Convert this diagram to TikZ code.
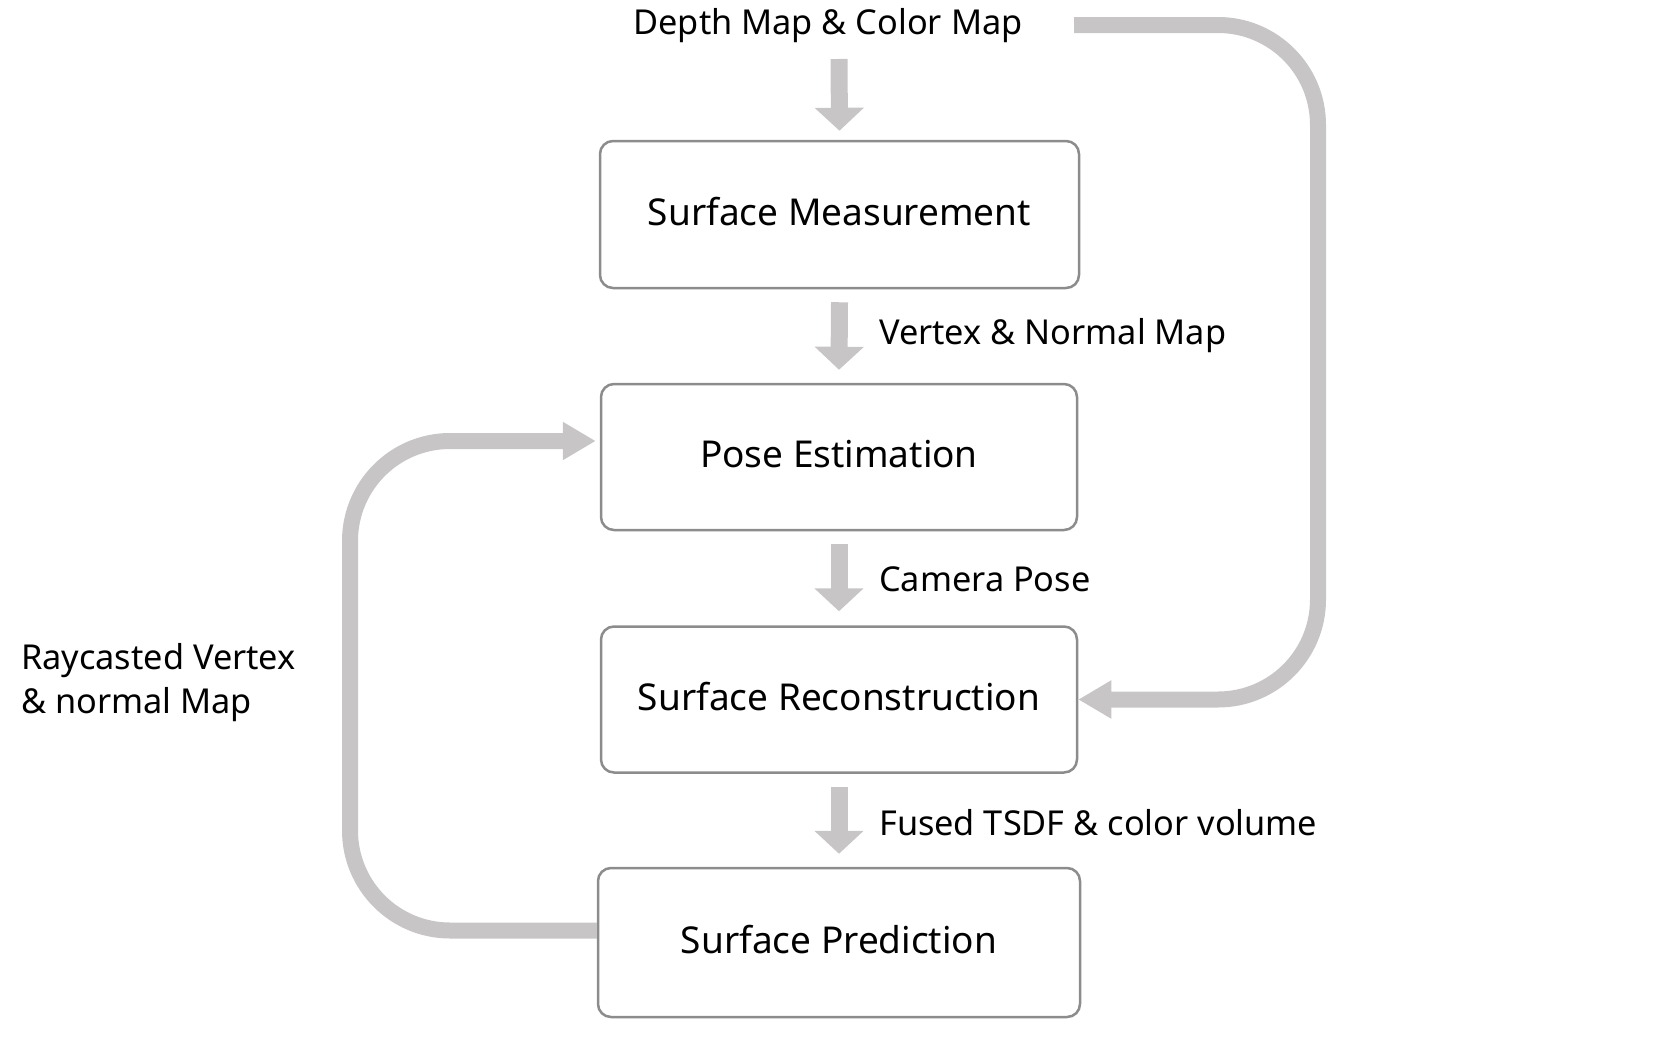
\documentclass[tikz,border=0pt]{standalone}
\usepackage{fontspec}
\setmainfont{Noto Sans}
\usetikzlibrary{arrows.meta}
\definecolor{flow}{RGB}{199,197,197}
\definecolor{edgec}{RGB}{140,140,140}
\begin{document}
\begin{tikzpicture}[x=1pt,y=-1pt,
  box/.style={draw=edgec,line width=2.5pt,rounded corners=13pt,minimum width=476pt,minimum height=146pt,inner sep=0pt,text depth=6pt,font=\fontsize{37}{44}\selectfont},
  lbl/.style={font=\fontsize{34.3}{44}\selectfont,inner sep=0pt},
  down/.style={draw=flow,line width=17pt,-{Triangle[width=48pt,length=23pt]}},
  loopline/.style={draw=flow,line width=16pt,rounded corners=100pt,-{Triangle[width=36pt,length=33pt]}}]
\path[use as bounding box] (0,0) rectangle (1662,1052);

\node[lbl] (in) at (828,26) {Depth Map \& Color Map};
\node[box, minimum width=479pt, minimum height=147pt] (sm) at (839.5,214.5) {Surface Measurement};
\node[box] (pe) at (839,457) {Pose Estimation};
\node[box] (sr) at (839,699.5) {Surface Reconstruction};
\node[box, minimum width=482pt, minimum height=149pt] (sp) at (839,942.5) {Surface Prediction};

\node[lbl, anchor=west] (l1) at (879,336) {Vertex \& Normal Map};
\node[lbl, anchor=west] (l2) at (879,579) {Camera Pose};
\node[lbl, anchor=west] (l3) at (879,823) {Fused TSDF \& color volume};
\node[lbl, anchor=west, align=left] (l4) at (21,683) {Raycasted Vertex\\\& normal Map};

\coordinate (a0) at (839,59);
\draw[down] (a0) -- ([yshift=9pt]sm.north);
\draw[down] ([yshift=-13pt]sm.south) -- ([yshift=13pt]pe.north);
\draw[down] ([yshift=-13pt]pe.south) -- ([yshift=14pt]sr.north);
\draw[down] ([yshift=-13pt]sr.south) -- ([yshift=13pt]sp.north);

\coordinate (rs) at (1074,25);
\coordinate (rc) at (1318,699.5);
\draw[loopline] (rs) -| (rc) -- (sr.east);

\coordinate (lc) at (350,441);
\draw[loopline] ([yshift=12pt]sp.west) -| (lc) -- ([xshift=-4pt,yshift=16pt]pe.west);
\end{tikzpicture}
\end{document}
